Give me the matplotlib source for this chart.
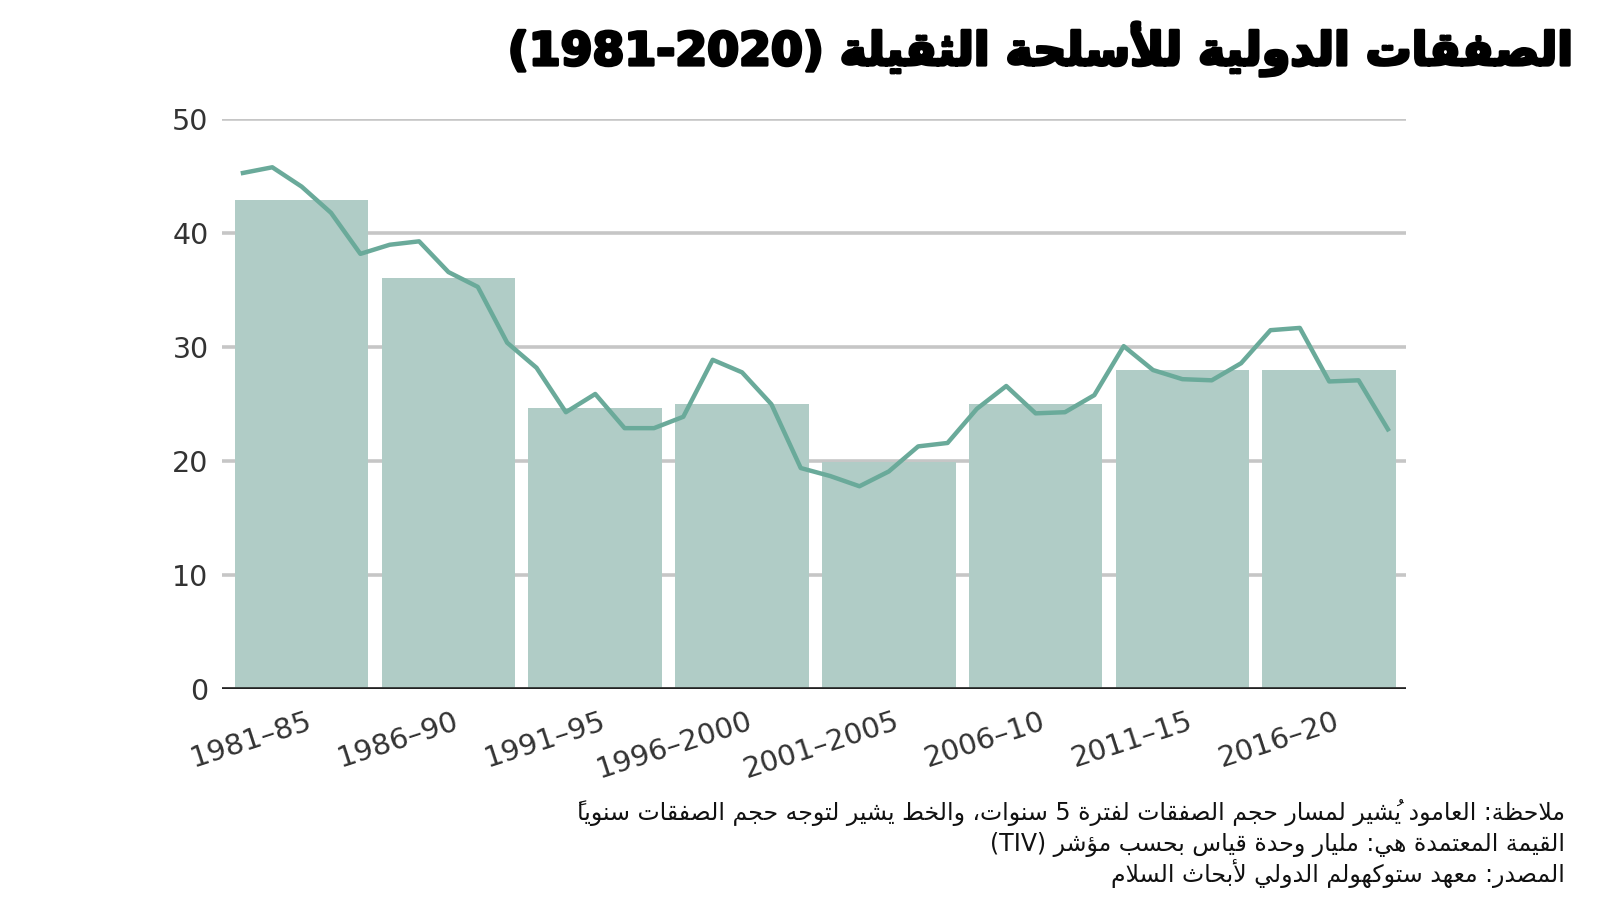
import re
import matplotlib
matplotlib.use("Agg")
import matplotlib.pyplot as plt
import matplotlib.patheffects as pe

# ---- data ----
periods = ["1981–85", "1986–90", "1991–95", "1996–2000",
           "2001–2005", "2006–10", "2011–15", "2016–20"]
period_mid = [1983, 1988, 1993, 1998, 2003, 2008, 2013, 2018]
period_vals = [42.9, 36.1, 24.7, 25.0, 19.9, 25.0, 28.0, 28.0]

years = list(range(1981, 2021))
yearly_vals = [45.3, 45.8, 44.1, 41.8, 38.2, 39.0, 39.3, 36.6, 35.3, 30.4,
               28.2, 24.3, 25.9, 22.9, 22.9, 23.9, 28.9, 27.8, 25.0, 19.4,
               18.7, 17.8, 19.1, 21.3, 21.6, 24.6, 26.6, 24.2, 24.3, 25.8,
               30.1, 28.0, 27.2, 27.1, 28.6, 31.5, 31.7, 27.0, 27.1, 22.8]

title = "الصفقات الدولية للأسلحة الثقيلة (1981-2020)"
notes = [
    "ملاحظة: العامود يُشير لمسار حجم الصفقات لفترة 5 سنوات، والخط يشير لتوجه حجم الصفقات سنوياً",
    "القيمة المعتمدة هي: مليار وحدة قياس بحسب مؤشر (TIV)",
    "المصدر: معهد ستوكهولم الدولي لأبحاث السلام",
]

# ---- tiny arabic shaper (no arabic_reshaper / bidi available) ----
_base = {'آ': 0xFE81, 'أ': 0xFE83, 'ؤ': 0xFE85, 'إ': 0xFE87, 'ئ': 0xFE89,
         'ا': 0xFE8D, 'ب': 0xFE8F, 'ة': 0xFE93, 'ت': 0xFE95, 'ث': 0xFE99,
         'ج': 0xFE9D, 'ح': 0xFEA1, 'خ': 0xFEA5, 'د': 0xFEA9, 'ذ': 0xFEAB,
         'ر': 0xFEAD, 'ز': 0xFEAF, 'س': 0xFEB1, 'ش': 0xFEB5, 'ص': 0xFEB9,
         'ض': 0xFEBD, 'ط': 0xFEC1, 'ظ': 0xFEC5, 'ع': 0xFEC9, 'غ': 0xFECD,
         'ف': 0xFED1, 'ق': 0xFED5, 'ك': 0xFED9, 'ل': 0xFEDD, 'م': 0xFEE1,
         'ن': 0xFEE5, 'ه': 0xFEE9, 'و': 0xFEED, 'ى': 0xFEEF, 'ي': 0xFEF1,
         'لا': 0xFEFB, 'لأ': 0xFEF7, 'لإ': 0xFEF9, 'لآ': 0xFEF5}
_dual = set('ئبتثجحخسشصضطظعغفقكلمنهي')
_harakat = set(chr(c) for c in range(0x064B, 0x0653))
_mirror = {'(': ')', ')': '('}


def ar(text):
    # split into units: letter (or lam-alef) + marks, LTR runs, others
    units = []
    i = 0
    while i < len(text):
        m = re.match(r'[0-9A-Za-z]+(?:[-.][0-9A-Za-z]+)*', text[i:])
        if m:
            units.append(['ltr', m.group(0), ''])
            i += len(m.group(0))
            continue
        ch = text[i]
        if ch == 'ل' and i + 1 < len(text) and text[i + 1] in 'اأإآ':
            key = text[i:i + 2]
            i += 2
        else:
            key = ch
            i += 1
        marks = ''
        while i < len(text) and text[i] in _harakat:
            marks += text[i]
            i += 1
        units.append(['ar' if key in _base else 'x', key, marks])

    out = []
    for k, (kind, key, marks) in enumerate(units):
        if kind != 'ar':
            out.append(key if kind == 'ltr' else _mirror.get(key, key))
            continue
        prev = units[k - 1] if k > 0 else None
        nxt = units[k + 1] if k + 1 < len(units) else None
        jp = prev is not None and prev[0] == 'ar' and prev[1] in _dual
        jn = key in _dual and nxt is not None and nxt[0] == 'ar'
        b = _base[key]
        if jp and jn:
            g = b + 3
        elif jp:
            g = b + 1
        elif jn:
            g = b + 2
        else:
            g = b
        # zero-width marks draw over the glyph that follows them
        out.append(marks + chr(g))
    return ''.join(reversed(out))


# ---- plot ----
bar_color = "#b0ccc6"
line_color = "#6aaa9a"
tick_font = ["DejaVu Sans"]

fig = plt.figure(figsize=(16, 9), dpi=100)
ax = fig.add_axes([0.139, 0.2344, 0.740, 0.6329])

ax.bar(period_mid, period_vals, width=4.55, color=bar_color, zorder=2)
ax.plot(years, yearly_vals, color=line_color, lw=3.2, zorder=3,
        solid_joinstyle="round")

ax.set_xlim(1980.3, 2020.63)
ax.set_ylim(0, 50)
ax.set_yticks([0, 10, 20, 30, 40, 50])
ax.yaxis.grid(True, color="#c6c6c6", lw=2.6, zorder=0)
ax.set_axisbelow(True)
ax.axhline(0, color="#222222", lw=2.6, zorder=4)
for s in ax.spines.values():
    s.set_visible(False)
ax.tick_params(axis="both", length=0)
ax.tick_params(axis="y", pad=10, labelsize=20.5, labelcolor="#333333")

ax.set_xticks([m + 0.17 for m in period_mid])
ax.set_xticklabels(periods, rotation=18, ha="right", va="top",
                   rotation_mode="anchor", fontsize=21, color="#333333")
ax.tick_params(axis="x", pad=13)
for lab in ax.get_xticklabels() + ax.get_yticklabels():
    lab.set_family(tick_font)

fig.text(0.985, 0.946, ar(title), ha="right", va="center",
         fontsize=33, fontweight="bold", family="DejaVu Sans", color="black",
         path_effects=[pe.withStroke(linewidth=2.2, foreground="black")])

for line, y in zip(notes, [0.097, 0.062, 0.029]):
    fig.text(0.978, y, ar(line), ha="right", va="center", fontsize=17,
             family="DejaVu Sans", color="#111111")

fig.savefig("out.png", dpi=100)
